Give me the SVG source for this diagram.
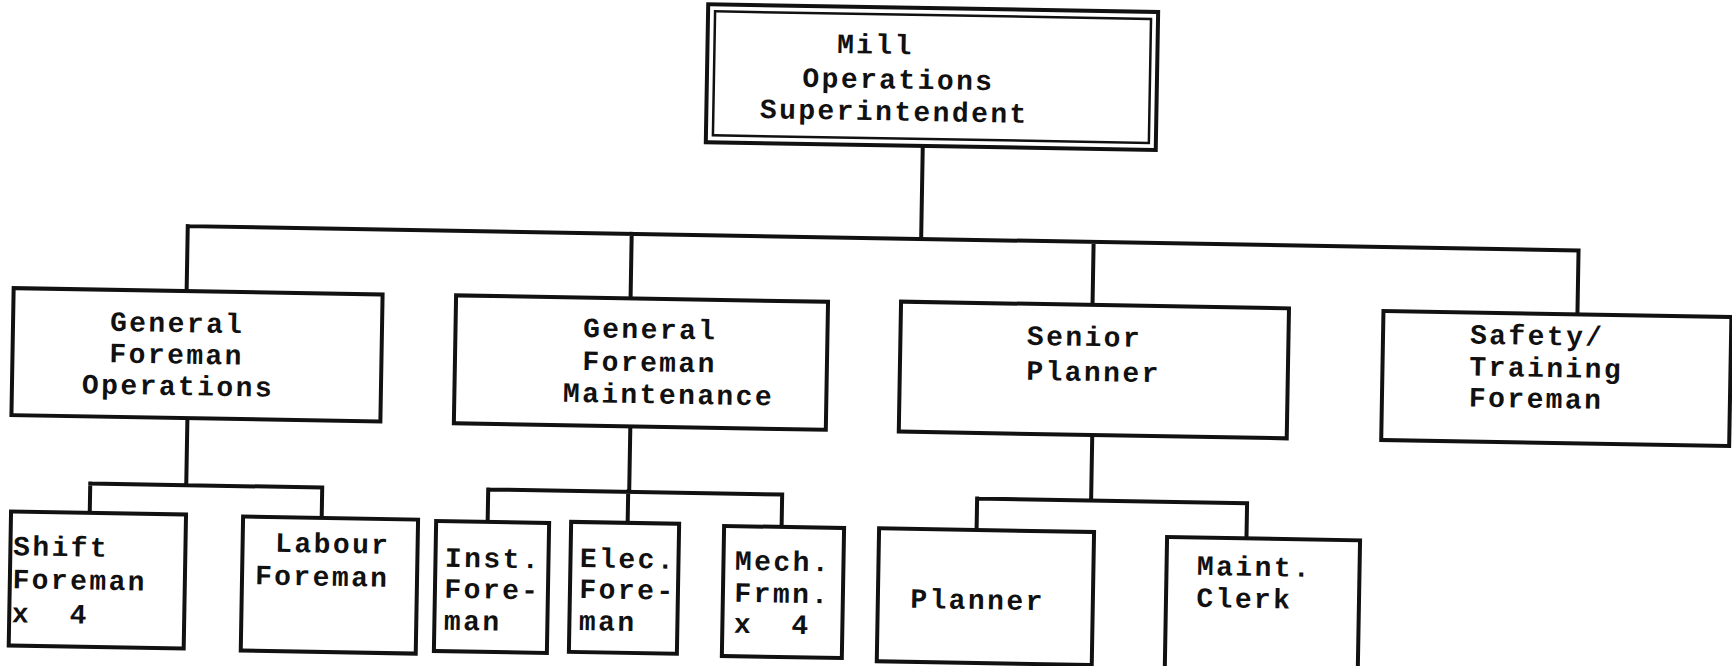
<svg xmlns="http://www.w3.org/2000/svg" width="1732" height="666" viewBox="0 0 1732 666">
<style>
.box{fill:#fff;stroke:#111;stroke-width:4}
.inner{fill:none;stroke:#111;stroke-width:2.5}
.con{fill:none;stroke:#111;stroke-width:4;stroke-linecap:square}
text{font-family:"Liberation Mono","DejaVu Sans Mono",monospace;font-weight:bold;font-size:28px;letter-spacing:2.4px;fill:#111;white-space:pre}
</style>
<rect width="1732" height="666" fill="#fff"/>
<g transform="rotate(1 866 333)">
<g id="connectors">
<path class="con" d="M919.5 145V238M186 238H1577M186 238V302M630 238V302M1092 238V302M1577 238V302"/>
<path class="con" d="M189 430V497M93 497H325M93 497V526M325 497V527"/>
<path class="con" d="M632 430V496M491 496H785M491 496V528M631 496V527M785 496V528"/>
<path class="con" d="M1094 430V496.5M980 496.5H1250M980 496.5V528M1250 496.5V532"/>
</g>
<g id="mill-superintendent">
<rect class="box" x="702.5" y="7" width="450" height="138" stroke-width="5"/>
<rect class="inner" x="709.5" y="14" width="436" height="124"/>
<text x="832" y="53.5">Mill</text>
<text x="798" y="88">Operations</text>
<text x="756" y="120">Superintendent</text>
</g>
<g id="gf-operations">
<rect class="box" x="13" y="303" width="369" height="127"/>
<text x="110" y="344">General</text>
<text x="110" y="375.5">Foreman</text>
<text x="83" y="407">Operations</text>
</g>
<g id="gf-maintenance">
<rect class="box" x="455.5" y="302.5" width="372" height="128"/>
<text x="583" y="342">General</text>
<text x="583" y="375">Foreman</text>
<text x="564" y="407">Maintenance</text>
</g>
<g id="senior-planner">
<rect class="box" x="900.5" y="301" width="388" height="130"/>
<text x="1027" y="342">Senior</text>
<text x="1027" y="377">Planner</text>
</g>
<g id="safety-training">
<rect class="box" x="1383" y="302" width="348" height="129"/>
<text x="1470" y="333">Safety/</text>
<text x="1470" y="365">Training</text>
<text x="1470" y="396">Foreman</text>
</g>
<g id="shift-foreman">
<rect class="box" x="14.3" y="526.4" width="175" height="134"/>
<text x="17" y="570">Shift</text>
<text x="17" y="603">Foreman</text>
<text x="17" y="637">x  4</text>
</g>
<g id="labour-foreman">
<rect class="box" x="246.4" y="527.4" width="175" height="134"/>
<text x="279" y="562">Labour</text>
<text x="259.4" y="595">Foreman</text>
</g>
<g id="inst-foreman">
<rect class="box" x="439.5" y="528.5" width="113" height="130"/>
<text x="449" y="574">Inst.</text>
<text x="449" y="605">Fore-</text>
<text x="449" y="637">man</text>
</g>
<g id="elec-foreman">
<rect class="box" x="574.5" y="527" width="108" height="130"/>
<text x="584" y="572">Elec.</text>
<text x="584" y="603">Fore-</text>
<text x="584" y="635">man</text>
</g>
<g id="mech-foreman">
<rect class="box" x="727.5" y="528.4" width="120" height="130"/>
<text x="739" y="572">Mech.</text>
<text x="739" y="604">Frmn.</text>
<text x="739" y="635">x  4</text>
</g>
<g id="planner">
<rect class="box" x="882.5" y="528" width="215" height="133"/>
<text x="915" y="607">Planner</text>
</g>
<g id="maint-clerk">
<rect class="box" x="1170.6" y="531.7" width="193" height="133"/>
<text x="1201" y="569">Maint.</text>
<text x="1201" y="601">Clerk</text>
</g>
</g>
</svg>
